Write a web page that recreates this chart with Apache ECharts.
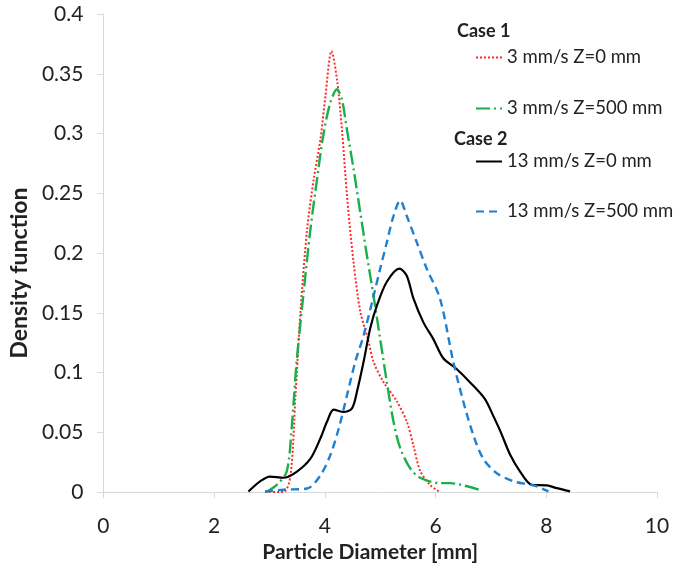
<!DOCTYPE html>
<html><head><meta charset="utf-8">
<script src="https://cdn.jsdelivr.net/npm/echarts@6/dist/echarts.min.js"></script>
<style>html,body{margin:0;padding:0;background:#fff}#c{width:673px;height:568px}</style>
</head><body><div id="c"></div>
<script>
var xTicks = [0, 2, 4, 6, 8, 10];
var yTicks = [0, 0.05, 0.1, 0.15, 0.2, 0.25, 0.3, 0.35, 0.4];
var seriesNames = ['3 mm/s Z=0 mm', '3 mm/s Z=500 mm', '13 mm/s Z=0 mm', '13 mm/s Z=500 mm'];

var redX = [2.92, 3.25, 3.38, 3.47, 3.56, 3.68, 3.80, 3.92, 4.01, 4.12, 4.22, 4.31, 4.40, 4.52, 4.64, 4.78, 4.88, 5.06, 5.30, 5.48, 5.60, 5.72, 5.90, 6.08];
var redY = [0, 0, 0.014, 0.081, 0.151, 0.22, 0.262, 0.295, 0.331, 0.369, 0.345, 0.303, 0.248, 0.192, 0.151, 0.128, 0.109, 0.092, 0.076, 0.059, 0.039, 0.018, 0.006, 0];

var greenX = [2.94, 3.13, 3.31, 3.40, 3.49, 3.61, 3.74, 3.86, 3.97, 4.10, 4.22, 4.31, 4.40, 4.52, 4.64, 4.76, 4.88, 5.00, 5.12, 5.24, 5.36, 5.54, 5.72, 6.08, 6.26, 6.78];
var greenY = [0, 0.006, 0.017, 0.053, 0.109, 0.164, 0.22, 0.262, 0.298, 0.326, 0.337, 0.328, 0.303, 0.27, 0.234, 0.198, 0.164, 0.128, 0.092, 0.059, 0.037, 0.02, 0.012, 0.0075, 0.0075, 0.002];

var blackX = [2.62, 2.83, 3.01, 3.25, 3.49, 3.74, 3.92, 4.04, 4.16, 4.34, 4.49, 4.58, 4.70, 4.82, 4.94, 5.12, 5.35, 5.48, 5.60, 5.78, 5.96, 6.14, 6.38, 6.62, 6.89, 7.04, 7.17, 7.35, 7.53, 7.74, 8.01, 8.19, 8.43];
var blackY = [0.0005, 0.009, 0.013, 0.012, 0.017, 0.028, 0.045, 0.059, 0.069, 0.067, 0.07, 0.084, 0.109, 0.137, 0.156, 0.176, 0.187, 0.181, 0.162, 0.142, 0.128, 0.112, 0.103, 0.092, 0.078, 0.064, 0.051, 0.031, 0.017, 0.006, 0.0056, 0.0033, 0.0006];

var blueX = [2.92, 3.25, 3.68, 3.92, 4.10, 4.25, 4.40, 4.55, 4.70, 4.88, 5.00, 5.12, 5.24, 5.36, 5.48, 5.66, 5.84, 6.08, 6.32, 6.50, 6.68, 6.86, 7.10, 7.41, 7.77, 8.04];
var blueY = [0.0005, 0.002, 0.003, 0.014, 0.031, 0.053, 0.081, 0.109, 0.131, 0.164, 0.187, 0.209, 0.231, 0.244, 0.231, 0.209, 0.187, 0.162, 0.109, 0.076, 0.048, 0.028, 0.016, 0.009, 0.0056, 0.0006];

function pairs(xs, ys) { return xs.map(function (x, i) { return [x, ys[i]]; }); }

var FONT = 'Lato, "Open Sans", sans-serif';
var chart = echarts.init(document.getElementById('c'));
function mkLegend(name, centerY) {
  return {
    data: [name], left: 475, top: centerY - 10, itemWidth: 26, itemHeight: 20, itemGap: 0, padding: 0,
    itemStyle: { opacity: 0 },
    textStyle: { fontFamily: FONT, fontSize: 18.5, color: '#222' }
  };
}
chart.setOption({
  animation: false,
  grid: { left: 103, right: 16, top: 14, bottom: 74 },
  xAxis: {
    type: 'value', min: 0, max: 10, interval: 2,
    name: 'Particle Diameter [mm]', nameLocation: 'middle', nameGap: 44,
    nameTextStyle: { fontFamily: FONT, fontSize: 21, fontWeight: 'bold', color: '#222', padding: [0, 20, 0, 0] },
    axisLine: { show: true, lineStyle: { color: '#d9d9d9', width: 1 } },
    axisTick: { show: true, length: 6, lineStyle: { color: '#d9d9d9' } },
    axisLabel: { fontFamily: FONT, fontSize: 21, color: '#222', margin: 24 },
    splitLine: { show: false }
  },
  yAxis: {
    type: 'value', min: 0, max: 0.4, interval: 0.05,
    name: 'Density function', nameLocation: 'middle', nameGap: 71,
    nameTextStyle: { fontFamily: FONT, fontSize: 23, fontWeight: 'bold', color: '#222', padding: [0, 40, 0, 0] },
    axisLine: { show: true, lineStyle: { color: '#d9d9d9', width: 1 } },
    axisTick: { show: true, length: 6, lineStyle: { color: '#d9d9d9' } },
    axisLabel: { fontFamily: FONT, fontSize: 21, color: '#222', margin: 20,
      formatter: function (v) { return String(Math.round(v * 100) / 100); } },
    splitLine: { show: false }
  },
  legend: [mkLegend(seriesNames[0], 58), mkLegend(seriesNames[1], 109), mkLegend(seriesNames[2], 162), mkLegend(seriesNames[3], 212)],
  graphic: [
    { type: 'text', left: 457, top: 22, style: { text: 'Case 1', fontFamily: FONT, fontSize: 18, fontWeight: 'bold', fill: '#222' } },
    { type: 'text', left: 454, top: 130, style: { text: 'Case 2', fontFamily: FONT, fontSize: 18, fontWeight: 'bold', fill: '#222' } }
  ],
  series: [
    { name: seriesNames[0], type: 'line', data: pairs(redX, redY), smooth: 0.3, symbol: 'none',
      lineStyle: { color: '#ff2a2a', width: 2, type: [2, 2] }, itemStyle: { color: '#ff2a2a' } },
    { name: seriesNames[1], type: 'line', data: pairs(greenX, greenY), smooth: 0.3, symbol: 'none',
      lineStyle: { color: '#1aaf4a', width: 2.4, type: [14, 4, 2, 4] }, itemStyle: { color: '#1aaf4a' } },
    { name: seriesNames[2], type: 'line', data: pairs(blackX, blackY), smooth: 0.3, symbol: 'none',
      lineStyle: { color: '#000', width: 2.2 }, itemStyle: { color: '#000' } },
    { name: seriesNames[3], type: 'line', data: pairs(blueX, blueY), smooth: 0.3, symbol: 'none',
      lineStyle: { color: '#1f7fd0', width: 2.4, type: [8, 5] }, itemStyle: { color: '#1f7fd0' } }
  ]
});
</script></body></html>
